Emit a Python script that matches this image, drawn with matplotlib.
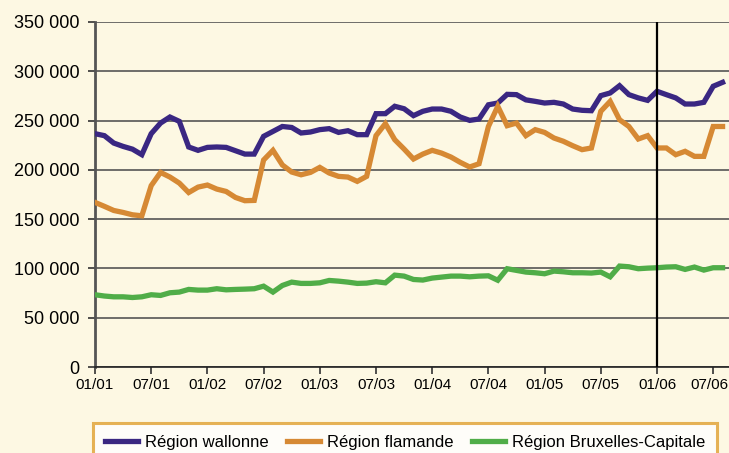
import numpy as np
import matplotlib.pyplot as plt
from matplotlib.transforms import ScaledTranslation

# monthly values, Jan 2001 .. Aug 2006
wallonne = [236700, 234700, 227200, 223800, 221000, 215400, 236700, 247500, 253600, 249200,
            223200, 219800, 222800, 223200, 222800, 219400, 216000, 216000, 234000, 239000,
            244000, 243000, 237400, 238400, 240800, 241800, 238000, 239700, 235700, 235700,
            257000, 257000, 264500, 262000, 255000, 259400, 261700, 261700, 259400, 253600,
            250200, 251600, 266000, 267800, 276600, 276300, 271000, 269500, 267800, 268500,
            266800, 261700, 260400, 260000, 275300, 278000, 285400, 276300, 273000, 270500,
            279700, 276300, 273000, 266800, 266800, 268500, 284800, 288800]
flamande = [167000, 163000, 158800, 156800, 154400, 153400, 184000, 197400, 192700, 186600,
            177000, 182500, 184600, 180500, 178100, 172000, 168700, 169000, 210000, 219800,
            205000, 197800, 195000, 197400, 202500, 196800, 193400, 192700, 188300, 193400,
            234700, 246900, 230600, 221100, 211000, 216000, 219800, 217000, 213000, 207600,
            202900, 206200, 244000, 264500, 244800, 247500, 234700, 240800, 238000, 232300,
            229000, 224500, 220500, 222200, 259400, 269500, 250900, 244000, 231300, 234700,
            222200, 222200, 215400, 218800, 213700, 213700, 244000, 244000]
bruxelles = [73300, 72000, 71200, 71200, 70500, 71200, 73300, 72600, 75300, 76000,
             78700, 78000, 78000, 79400, 78300, 78700, 79000, 79400, 82000, 76000,
             82700, 86100, 84800, 84800, 85400, 87800, 87100, 86100, 84800, 85100,
             86500, 85400, 93200, 92200, 88800, 88200, 90200, 91200, 92200, 92200,
             91500, 92200, 92500, 88000, 99700, 98000, 96300, 95600, 94600, 97300,
             96600, 95600, 95600, 95300, 96300, 91500, 102400, 101700, 99700, 100300,
             100700, 101400, 101700, 99000, 101400, 98300, 100700, 100700]
series_names = ['Région wallonne', 'Région flamande', 'Région Bruxelles-Capitale']
x_labels = ['01/01', '07/01', '01/02', '07/02', '01/03', '07/03',
            '01/04', '07/04', '01/05', '07/05', '01/06', '07/06']
y_ticks = [0, 50000, 100000, 150000, 200000, 250000, 300000, 350000]
y_labels = ['0', '50 000', '100 000', '150 000', '200 000', '250 000', '300 000', '350 000']

bg = '#FDF8E3'
colors = ['#3A2782', '#D68934', '#50AD48']
font = ['Liberation Sans', 'DejaVu Sans']

fig = plt.figure(figsize=(7.29, 4.53), dpi=100, facecolor=bg)
ax = fig.add_axes([95/729, 1 - 367/453, 636/729, 345/453], facecolor=bg)

months = np.arange(len(wallonne))
for vals, c, name in zip([wallonne, flamande, bruxelles], colors, series_names):
    ax.plot(months, vals, color=c, lw=3.8, label=name, solid_joinstyle='miter', zorder=3)

ax.set_xlim(0, 67.9)
ax.set_ylim(0, 350000)
ax.set_yticks(y_ticks)
ax.set_yticklabels(y_labels, fontsize=13, family=font)
ax.set_xticks(np.arange(len(x_labels)) * 6)
ax.set_xticklabels(x_labels, fontsize=11, family=font)
ax.tick_params(axis='y', length=5, width=1.2, pad=6, color='#333333')
ax.tick_params(axis='x', length=5, width=1.2, pad=3, color='#333333')
# last label sits against the right edge
last = ax.get_xticklabels()[-1]
last.set_transform(last.get_transform() + ScaledTranslation(-4/100, 0, fig.dpi_scale_trans))

ax.grid(axis='y', color='#555555', lw=1.2, zorder=1)
ax.axvline(60, color='black', lw=1.6, zorder=4)
for s in ['top', 'right']:
    ax.spines[s].set_visible(False)
ax.spines['left'].set_color('#555555')
ax.spines['left'].set_linewidth(2)
ax.spines['bottom'].set_color('#222222')
ax.spines['bottom'].set_linewidth(1.2)

leg = fig.legend(loc='upper left', bbox_to_anchor=(93/729, 1 - 423/453),
                 ncol=3, frameon=True, fancybox=False,
                 handlelength=2.0, borderpad=0.7, handletextpad=0.42,
                 columnspacing=1.1, borderaxespad=0,
                 prop={'family': font, 'size': 12})
leg.get_frame().set_edgecolor('#E0A030')
leg.get_frame().set_linewidth(2.2)
leg.get_frame().set_facecolor('white')

fig.savefig('out.png', dpi=100, facecolor=bg)
